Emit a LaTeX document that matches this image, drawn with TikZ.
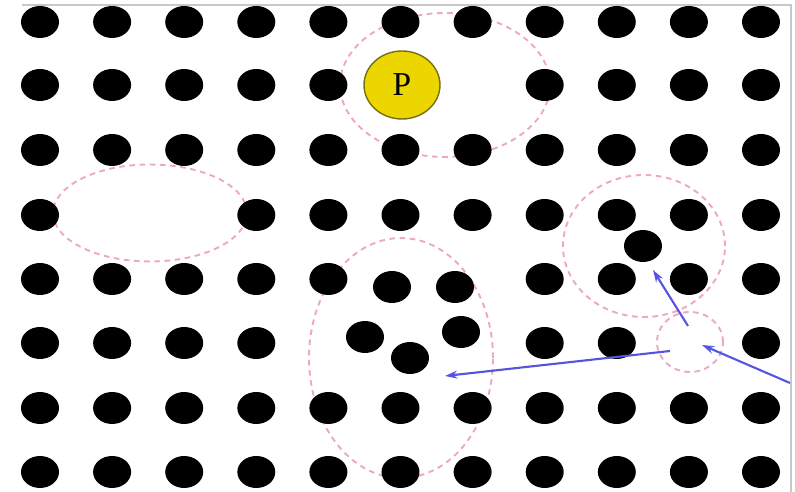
\documentclass[tikz,border=0pt]{standalone}
\usepackage{fontspec}
\setmainfont{Liberation Serif}
\usetikzlibrary{shapes.geometric,arrows.meta}
\definecolor{pinkd}{RGB}{238,168,198}
\definecolor{bluea}{RGB}{85,85,225}
\definecolor{yel}{RGB}{236,214,0}
\definecolor{olive}{RGB}{120,110,20}
\definecolor{frame}{RGB}{200,200,200}
\tikzset{
  dot/.style={ellipse,fill=black,inner sep=0pt,minimum width=0.76cm,minimum height=0.64cm},
  region/.style={ellipse,draw=pinkd,line width=1.1pt,dash pattern=on 3.2pt off 2.6pt,inner sep=0pt},
  pnode/.style={ellipse,draw=olive,fill=yel,line width=0.8pt,inner sep=0pt,minimum width=1.52cm,minimum height=1.36cm,font=\fontsize{19}{19}\selectfont},
  flow/.style={draw=bluea,line width=1.2pt,-{Stealth[length=7pt,width=4.5pt]}},
  border/.style={draw=frame,line width=0.7pt}
}
\begin{document}
\begin{tikzpicture}[x=0.02cm,y=-0.02cm]
\useasboundingbox (0,0) rectangle (795,492);
\coordinate (fa) at (22,5);
\coordinate (fb) at (791,5);
\coordinate (fc) at (791,492);
\draw[border] (fa) -- (fb) -- (fc);
% dashed regions
\node[region,minimum width=4.2cm,minimum height=2.88cm] (rtop) at (445,85) {};
\node[region,minimum width=3.88cm,minimum height=1.94cm] (rleft) at (150,213) {};
\node[region,minimum width=3.68cm,minimum height=4.8cm] (rmid) at (401,358) {};
\node[region,minimum width=3.24cm,minimum height=2.84cm] (rright) at (644,246) {};
\node[region,minimum width=1.32cm,minimum height=1.2cm] (rsmall) at (690,342) {};
% regular grid dots
\foreach \r/\y/\cols in {
  1/22/{1,2,3,4,5,6,7,8,9,10,11},
  2/85/{1,2,3,4,5,8,9,10,11},
  3/150/{1,2,3,4,5,6,7,8,9,10,11},
  4/215/{1,4,5,6,7,8,9,10,11},
  5/279/{1,2,3,4,5,8,9,10,11},
  6/343/{1,2,3,4,8,9,11},
  7/408/{1,2,3,4,5,6,7,8,9,10,11},
  8/472/{1,2,3,4,5,6,7,8,9,10,11}}{
  \foreach \c in \cols {
    \node[dot] (d\r-\c) at ({40+72.1*(\c-1)},\y) {};
  }
}
% displaced dots
\node[dot] (x1) at (643,246) {};
\node[dot] (x2) at (392,287) {};
\node[dot] (x3) at (455,287) {};
\node[dot] (x4) at (365,337) {};
\node[dot] (x5) at (410,358) {};
\node[dot] (x6) at (461,332) {};
% P
\node[pnode] (P) at (402,85) {P};
% arrows
\coordinate (a1s) at (688,326);
\coordinate (a1e) at (653,270);
\coordinate (a2s) at (670,351);
\coordinate (a2e) at (445,376);
\coordinate (a3s) at (790,383);
\coordinate (a3e) at (702,345);
\draw[flow] (a1s) -- (a1e);
\draw[flow] (a2s) -- (a2e);
\draw[flow] (a3s) -- (a3e);
\end{tikzpicture}
\end{document}
